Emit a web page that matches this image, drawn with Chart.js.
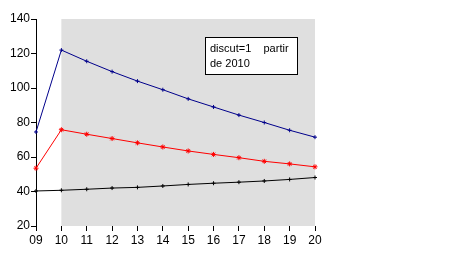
<!DOCTYPE html>
<html>
<head>
<meta charset="utf-8">
<script src="https://cdn.jsdelivr.net/npm/chart.js@4"></script>
<style>
  html, body { margin: 0; padding: 0; background: #fff; }
  canvas { display: block; }
</style>
</head>
<body>
<canvas id="chart" width="457" height="263"></canvas>
<script>
// tick labels on the x axis (years 2009..2020)
var years = ['09', '10', '11', '12', '13', '14', '15', '16', '17', '18', '19', '20'];

// series
var blueSeries = [74.5, 122, 115.5, 109.5, 104, 99, 93.7, 89, 84.3, 80, 75.5, 71.5];
var redSeries = [53.5, 75.8, 73.2, 70.7, 68.2, 65.8, 63.5, 61.5, 59.6, 57.5, 56, 54.3];
var blackSeries = [40.3, 40.7, 41.3, 42, 42.4, 43.2, 44.1, 44.8, 45.4, 46.1, 47, 48.1];

// shaded period starts at this label
var shadeFrom = '10';
var noteLines = ['discut=1    partir', 'de 2010'];

var shadePlugin = {
    id: 'shade',
    beforeDatasetsDraw: function (chart) {
        var ctx = chart.ctx;
        var a = chart.chartArea;
        var x0 = chart.scales.x.getPixelForValue(years.indexOf(shadeFrom));
        ctx.save();
        ctx.fillStyle = '#dfdfdf';
        ctx.fillRect(x0, a.top, a.right - x0, a.bottom - a.top);
        ctx.restore();
    },
    afterDatasetsDraw: function (chart) {
        var ctx = chart.ctx;
        var a = chart.chartArea;
        var bx = a.left + 169, by = a.top + 18, bw = 92, bh = 37;
        ctx.save();
        ctx.fillStyle = '#fff';
        ctx.fillRect(bx, by, bw, bh);
        ctx.strokeStyle = '#000';
        ctx.lineWidth = 1;
        ctx.strokeRect(bx + 0.5, by + 0.5, bw, bh);
        ctx.fillStyle = '#000';
        ctx.font = '11px "Liberation Sans", Arial, sans-serif';
        ctx.textBaseline = 'alphabetic';
        ctx.fillText(noteLines[0], bx + 5, by + 15);
        ctx.fillText(noteLines[1], bx + 5, by + 30);
        ctx.restore();
    }
};

Chart.defaults.font.family = '"Liberation Sans", Arial, sans-serif';
Chart.defaults.font.size = 12;
Chart.defaults.color = '#000';

var c = document.getElementById('chart');
var ctx = c.getContext('2d');
var myChart = new Chart(ctx, {
    type: 'line',
    data: {
        labels: years,
        datasets: [{
            data: blueSeries,
            borderColor: '#00008b',
            backgroundColor: '#00008b',
            borderWidth: 1,
            pointStyle: 'cross',
            pointRadius: 2,
            pointBorderWidth: 1
        }, {
            data: redSeries,
            borderColor: '#ff0000',
            backgroundColor: '#ff0000',
            borderWidth: 1,
            pointStyle: 'star',
            pointRadius: 2.5,
            pointBorderWidth: 1
        }, {
            data: blackSeries,
            borderColor: '#000',
            backgroundColor: '#000',
            borderWidth: 1,
            pointStyle: 'cross',
            pointRadius: 2,
            pointBorderWidth: 1
        }]
    },
    options: {
        responsive: false,
        animation: false,
        layout: { padding: { top: 19, right: 142, left: 0, bottom: 0 } },
        plugins: {
            legend: { display: false },
            tooltip: { enabled: false }
        },
        scales: {
            x: {
                offset: false,
                grid: { drawOnChartArea: false, color: '#000', tickLength: 5 },
                border: { display: false },
                ticks: { padding: 2, maxRotation: 0, autoSkip: false },
                afterFit: function (s) { s.height = 37; }
            },
            y: {
                min: 20,
                max: 140,
                grid: { drawOnChartArea: false, color: '#000', tickLength: 5 },
                border: { display: true, color: '#000' },
                ticks: { stepSize: 20, padding: 1 },
                afterFit: function (s) { s.width = 36; }
            }
        }
    },
    plugins: [shadePlugin]
});
</script>
</body>
</html>
